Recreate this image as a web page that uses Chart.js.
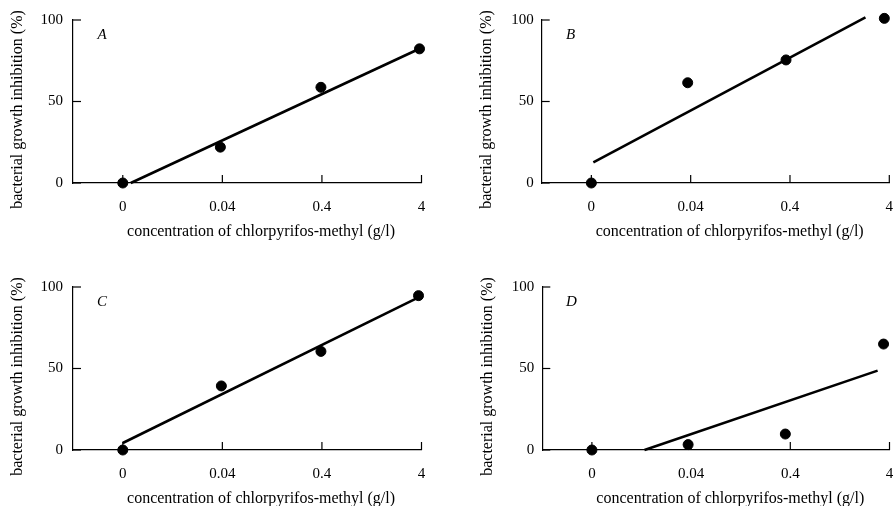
<!DOCTYPE html>
<html>
<head>
<meta charset="utf-8">
<script src="https://cdn.jsdelivr.net/npm/chart.js@4/dist/chart.umd.min.js"></script>
<style>
  body { margin: 0; background: #fff; }
  #wrap { position: relative; width: 896px; height: 506px; overflow: hidden; }
  canvas { position: absolute; }
</style>
</head>
<body>
<div id="wrap"></div>
<script>
// tick labels and titles
const xLabels = ['0', '0.04', '0.4', '4'];
const yTicks = [0, 50, 100];
const xTitle = 'concentration of chlorpyrifos-methyl (g/l)';
const yTitle = 'bacterial growth inhibition (%)';
const letters = ['A', 'B', 'C', 'D'];

// measured points (x = category index)
const ptXA = [0, 0.98, 1.99, 2.98];
const ptYA = [0, 22, 58.7, 82.3];
const ptXB = [0, 0.97, 1.96, 2.95];
const ptYB = [0, 61.5, 75.5, 101];
const ptXC = [0, 0.99, 1.99, 2.97];
const ptYC = [0, 39.3, 60.5, 94.7];
const ptXD = [0, 0.97, 1.95, 2.94];
const ptYD = [0, 3.3, 9.8, 65];

// fitted lines (end points)
const fitXA = [0.08, 2.99];
const fitYA = [0, 82.7];
const fitXB = [0.02, 2.76];
const fitYB = [12.7, 101.6];
const fitXC = [0, 2.96];
const fitYC = [4.3, 93.3];
const fitXD = [0.53, 2.88];
const fitYD = [0, 48.7];

const series = [
  [ptXA, ptYA, fitXA, fitYA],
  [ptXB, ptYB, fitXB, fitYB],
  [ptXC, ptYC, fitXC, fitYC],
  [ptXD, ptYD, fitXD, fitYD]
];

// panel placement: canvas offset and plot area inside each canvas
const W = 448, H = 253;
const layouts = [
  { x: 0,   y: 0,   left: 73,   top: 20, right: 421.5, bottom: 183, pad: 10 },
  { x: 448, y: 0,   left: 93.7, top: 20, right: 441.3, bottom: 183, pad: 8 },
  { x: 0,   y: 253, left: 73,   top: 34, right: 421.5, bottom: 197, pad: 10 },
  { x: 448, y: 253, left: 94.3, top: 34, right: 441.5, bottom: 197, pad: 8 }
];

Chart.defaults.font.family = '"Liberation Serif", "Times New Roman", serif';
Chart.defaults.font.size = 15;
Chart.defaults.color = '#000';

// inward ticks, axis titles and panel letter
const decorations = {
  id: 'decorations',
  beforeDatasetsDraw(chart, args, opts) {
    const { ctx, chartArea: a, scales: { x, y } } = chart;
    ctx.save();
    ctx.strokeStyle = '#000';
    ctx.lineWidth = 1.2;
    y.ticks.forEach(t => {
      const py = y.getPixelForValue(t.value);
      ctx.beginPath();
      ctx.moveTo(a.left, py);
      ctx.lineTo(a.left + 8, py);
      ctx.stroke();
    });
    x.ticks.forEach(t => {
      const px = x.getPixelForValue(t.value);
      ctx.beginPath();
      ctx.moveTo(px, a.bottom);
      ctx.lineTo(px, a.bottom - 8);
      ctx.stroke();
    });

    ctx.fillStyle = '#000';
    ctx.textAlign = 'center';
    ctx.textBaseline = 'middle';
    ctx.font = '16px "Liberation Serif"';
    ctx.fillText(xTitle, a.left + 188, a.bottom + 49);

    ctx.save();
    ctx.translate(a.left - 55, (a.top + a.bottom) / 2 + 8);
    ctx.rotate(-Math.PI / 2);
    ctx.fillText(yTitle, 0, 0);
    ctx.restore();

    ctx.font = 'italic 15px "Liberation Serif"';
    ctx.fillText(opts.letter, a.left + 29, a.top + 15);
    ctx.restore();
  }
};

const wrap = document.getElementById('wrap');

layouts.forEach((p, i) => {
  const [px, py, fx, fy] = series[i];
  const canvas = document.createElement('canvas');
  canvas.width = W;
  canvas.height = H;
  canvas.style.left = p.x + 'px';
  canvas.style.top = p.y + 'px';
  wrap.appendChild(canvas);

  new Chart(canvas.getContext('2d'), {
    type: 'scatter',
    data: {
      datasets: [
        {
          type: 'line',
          data: fx.map((v, k) => ({ x: v, y: fy[k] })),
          borderColor: '#000',
          borderWidth: 2.6,
          pointRadius: 0,
          fill: false,
          clip: false
        },
        {
          data: px.map((v, k) => ({ x: v, y: py[k] })),
          backgroundColor: '#000',
          borderColor: '#000',
          pointRadius: 5,
          clip: false
        }
      ]
    },
    plugins: [decorations],
    options: {
      responsive: false,
      animation: false,
      devicePixelRatio: 1,
      layout: { padding: { left: 0, top: p.top, right: W - p.right, bottom: 0 } },
      plugins: {
        legend: { display: false },
        tooltip: { enabled: false },
        decorations: { letter: letters[i] }
      },
      scales: {
        x: {
          type: 'linear',
          min: -0.5,
          max: 3,
          afterBuildTicks: s => { s.ticks = xLabels.map((l, k) => ({ value: k })); },
          afterFit: s => {
            s.height = H - p.bottom;
            s.paddingLeft = 0;
            s.paddingRight = 0;
          },
          ticks: {
            padding: 15,
            maxRotation: 0,
            autoSkip: false,
            callback: v => xLabels[v]
          },
          grid: { drawOnChartArea: false, drawTicks: false },
          border: { color: '#000', width: 1.2 }
        },
        y: {
          min: 0,
          max: 100,
          afterBuildTicks: s => { s.ticks = yTicks.map(v => ({ value: v })); },
          afterFit: s => {
            s.width = p.left;
            s.paddingTop = 0;
            s.paddingBottom = 0;
          },
          ticks: { padding: p.pad },
          grid: { drawOnChartArea: false, drawTicks: false },
          border: { color: '#000', width: 1.2 }
        }
      }
    }
  });
});
</script>
</body>
</html>
